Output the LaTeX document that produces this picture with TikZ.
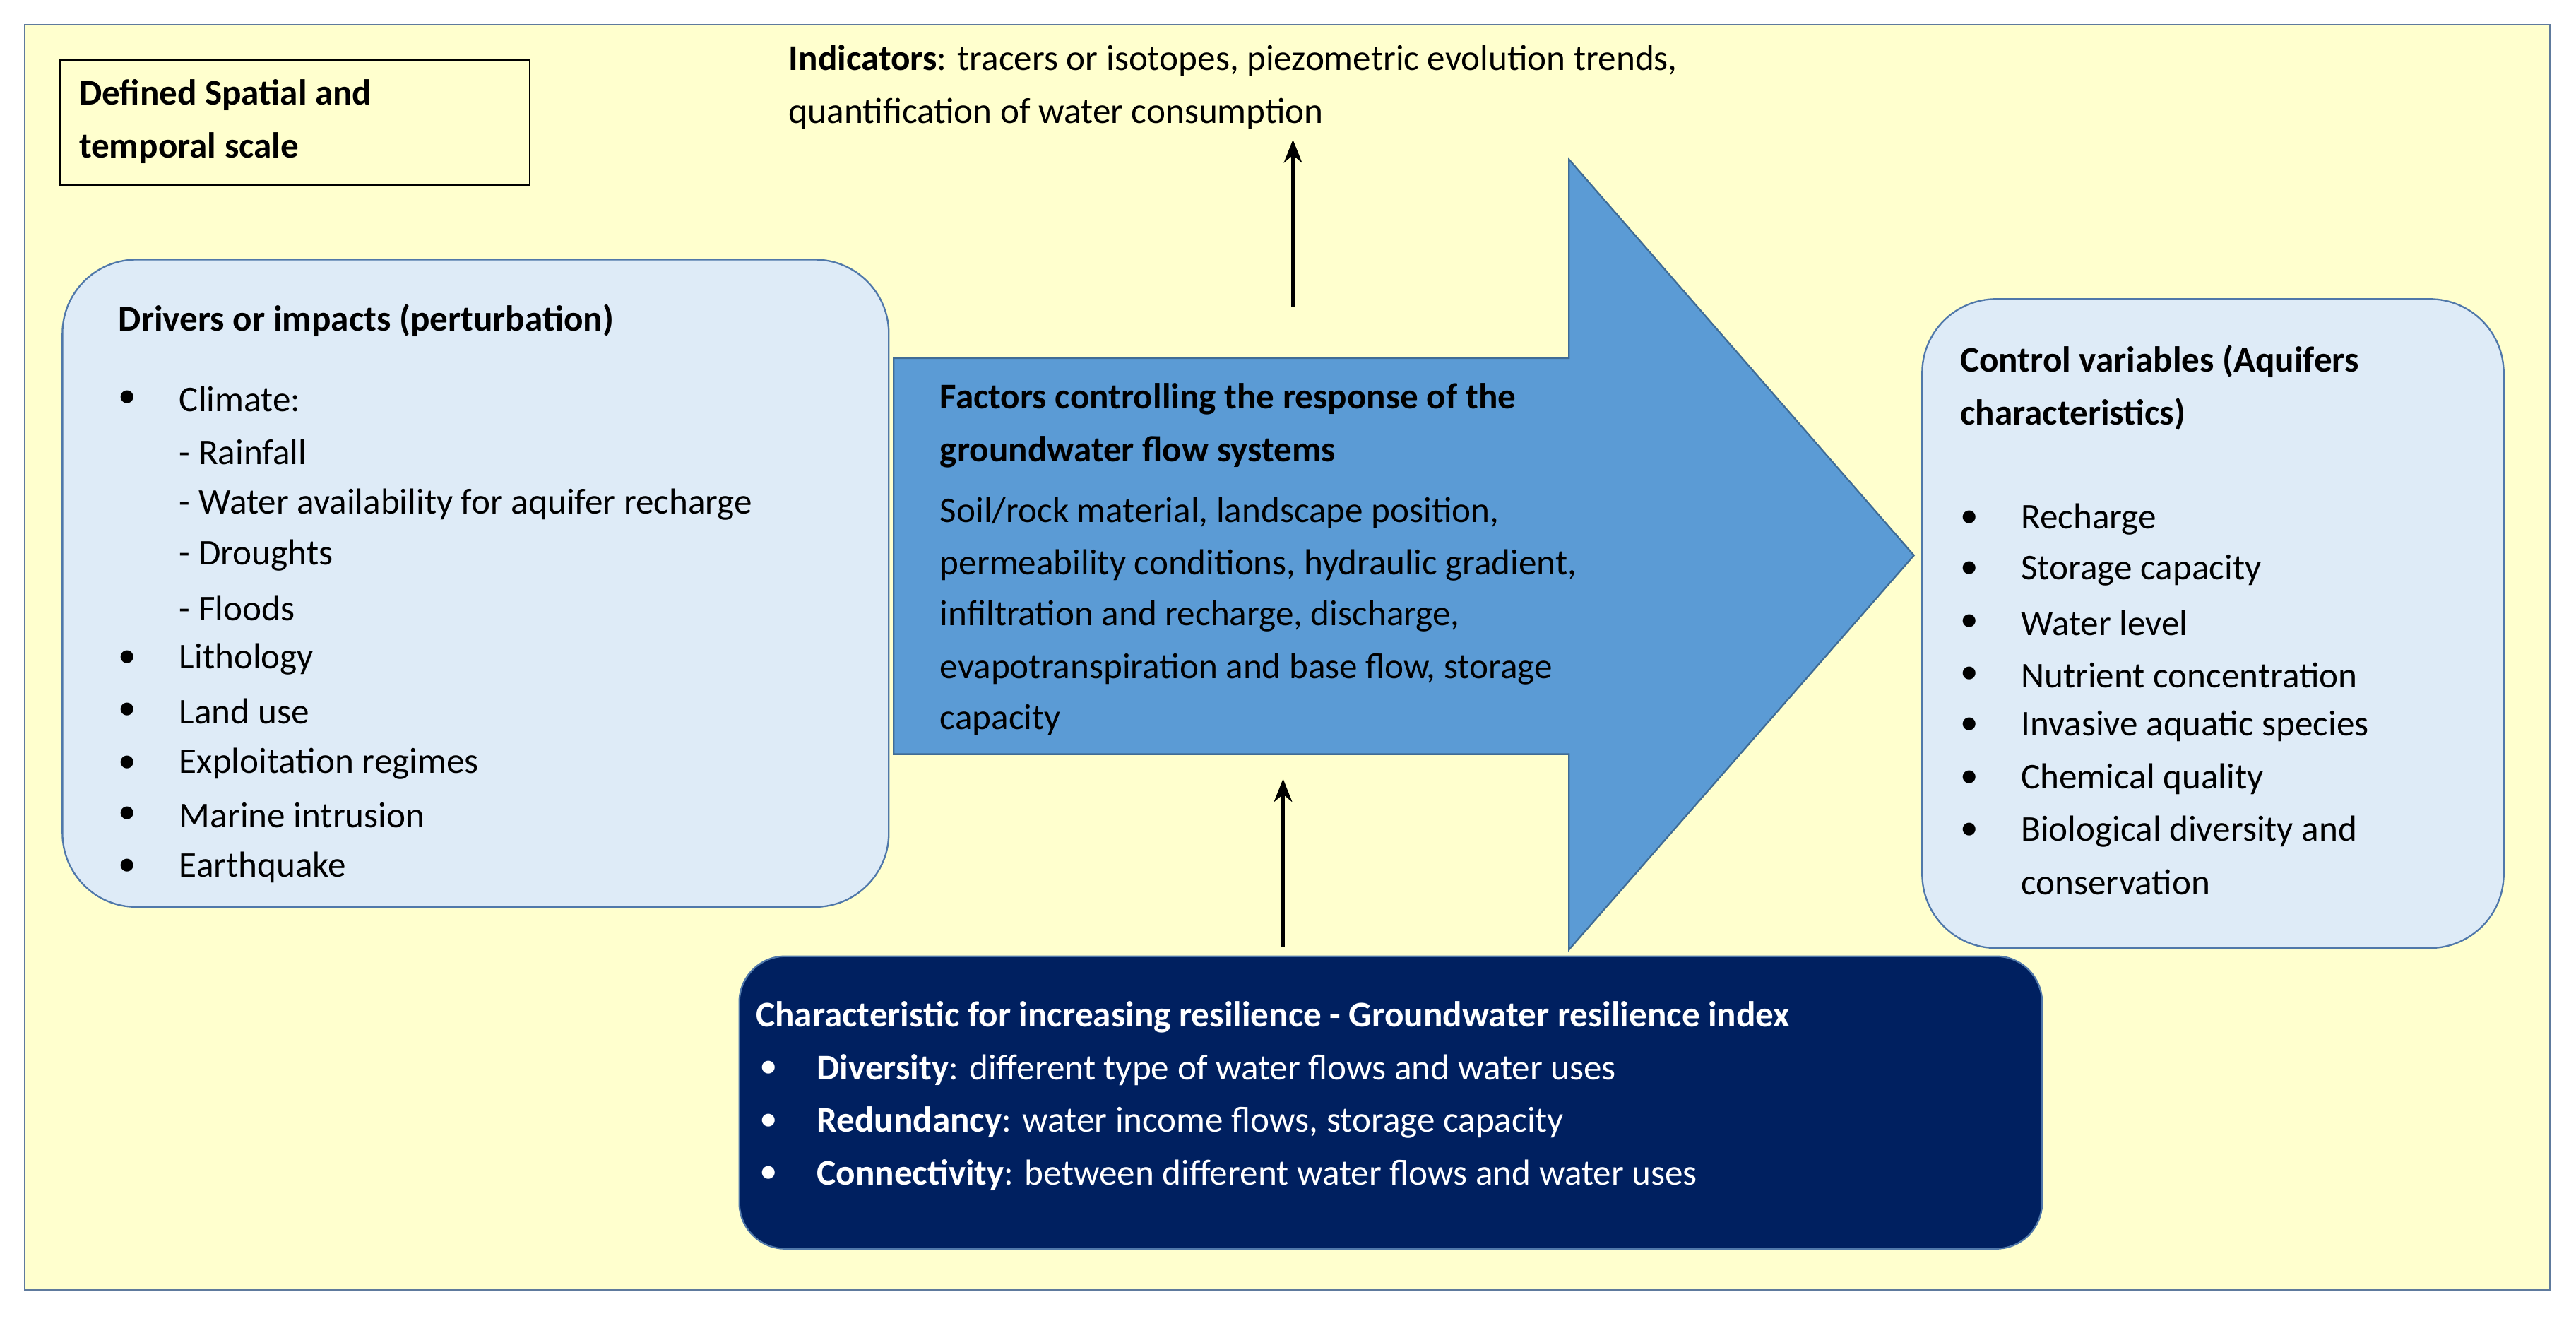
\documentclass[tikz,border=0pt]{standalone}
\usepackage{fontspec}
\usetikzlibrary{arrows.meta}
\setmainfont{Carlito}
\begin{document}
\begin{tikzpicture}[x=1pt,y=-1pt,
 t/.style={anchor=west,inner sep=0pt,font=\fontsize{22}{26}\selectfont},
 tw/.style={t,text=white},
 up/.style={line width=2.5pt,-{Stealth[length=14pt,width=11pt]}},
 lb/.style={rounded corners=45pt,fill=lblue,draw=bord,line width=1pt}]
\definecolor{bg}{RGB}{255,255,206}
\definecolor{lblue}{RGB}{222,235,247}
\definecolor{bord}{RGB}{80,120,170}
\definecolor{arr}{RGB}{91,155,213}
\definecolor{navy}{RGB}{0,32,96}
\useasboundingbox (0,0) rectangle (1568,811);
\draw[fill=bg,draw=bord!70!gray,line width=1pt] (15,15) rectangle (1552,785);
\node[draw=black,line width=1pt,minimum width=286pt,minimum height=76pt,anchor=north west,fill=bg] (scale) at (36,36) {};
\node[t,font=\fontsize{22}{26}\selectfont\bfseries] (s1) at (48,58) {Defined Spatial and};
\node[t,font=\fontsize{22}{26}\selectfont\bfseries] (s2) at (48,90) {temporal scale};
\node[t] (i1) at (480,37) {\textbf{Indicators}: tracers or isotopes, piezometric evolution trends,};
\node[t] (i2) at (480,69) {quantification of water consumption};
% left box
\draw[lb] (38,158) rectangle (541,552);
\node[t,font=\fontsize{22}{26}\selectfont\bfseries] (d0) at (72,195) {Drivers or impacts (perturbation)};
\foreach \y/\b/\x/\s [count=\i] in {243/1/109/Climate:,275/0/109/- Rainfall,307/0/109/- Water availability for aquifer recharge,338/0/109/- Droughts,370/0/109/- Floods,401/1/109/Lithology,433/1/109/Land use,465/1/109/Exploitation regimes,496/1/109/Marine intrusion,528/1/109/Earthquake}{
 \ifnum\b=1 \node[t] (db\i) at (72,\y) {\textbullet};\fi
 \node[t] (d\i) at (\x,\y) {\s};}
% big arrow
\draw[fill=arr,draw=arr!70!black,line width=1pt] (544,218) -- (955,218) -- (955,97) -- (1165,338) -- (955,578) -- (955,459) -- (544,459) -- cycle;
\node[t,font=\fontsize{22}{26}\selectfont\bfseries] (f1) at (572,243) {Factors controlling the response of the};
\node[t,font=\fontsize{22}{26}\selectfont\bfseries] (f2) at (572,275) {groundwater flow systems};
\foreach \y/\s [count=\i] in {312/{Soil/rock material, landscape position,},344/{permeability conditions, hydraulic gradient,},375/{infiltration and recharge, discharge,},407/{evapotranspiration and base flow, storage},438/capacity}{
 \node[t] (fb\i) at (572,\y) {\s};}
% right box
\draw[lb] (1170,182) rectangle (1524,577);
\node[t,font=\fontsize{22}{26}\selectfont\bfseries] (c1) at (1193,220) {Control variables (Aquifers};
\node[t,font=\fontsize{22}{26}\selectfont\bfseries] (c2) at (1193,252) {characteristics)};
\foreach \y/\b/\s [count=\i] in {316/1/Recharge,347/1/Storage capacity,379/1/Water level,411/1/Nutrient concentration,442/1/Invasive aquatic species,474/1/Chemical quality,506/1/Biological diversity and,537/0/conservation}{
 \ifnum\b=1 \node[t] (cb\i) at (1193,\y) {\textbullet};\fi
 \node[t] (cv\i) at (1230,\y) {\s};}
% bottom box
\draw[fill=navy,draw=bord,line width=1pt,rounded corners=28pt] (450,582) rectangle (1243,760);
\node[tw,font=\fontsize{22}{26}\selectfont\bfseries] (r0) at (460,619) {Characteristic for increasing resilience - Groundwater resilience index};
\foreach \y/\s [count=\i] in {651/{\textbf{Diversity}: different type of water flows and water uses},683/{\textbf{Redundancy}: water income flows, storage capacity},715/{\textbf{Connectivity}: between different water flows and water uses}}{
 \node[tw] (rb\i) at (462,\y) {\textbullet};
 \node[tw] (r\i) at (497,\y) {\s};}
% arrows
\coordinate (a1s) at (787,187); \coordinate (a1e) at (787,85);
\draw[up] (a1s) -- (a1e);
\coordinate (a2s) at (781,576); \coordinate (a2e) at (781,474);
\draw[up] (a2s) -- (a2e);
\end{tikzpicture}
\end{document}
